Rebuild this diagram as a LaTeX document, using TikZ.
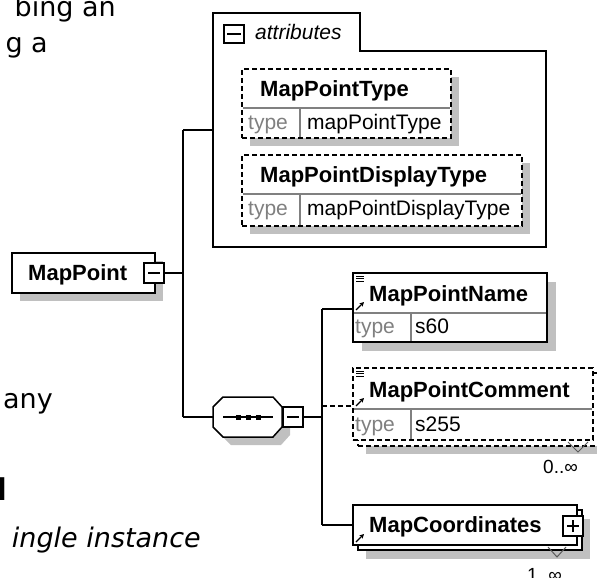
\documentclass[tikz,border=0pt]{standalone}
\usepackage{fontspec}
\setmainfont{Liberation Sans}
\newfontfamily\pagefont{DejaVu Sans}
\usetikzlibrary{arrows.meta}
\definecolor{shd}{RGB}{192,192,192}
\definecolor{divgray}{RGB}{128,128,128}
\definecolor{typegray}{RGB}{128,128,128}
\definecolor{vgray}{RGB}{90,90,90}
\begin{document}
\begin{tikzpicture}[x=1pt,y=-1pt,
  bx/.style={draw=black, line width=1.5pt, fill=white, rectangle, inner sep=0pt, outer sep=0pt, anchor=north west},
  dbx/.style={bx, dash pattern=on 5pt off 3pt},
  shadowbox/.style={fill=shd, draw=none, rectangle, inner sep=0pt, outer sep=0pt, anchor=north west},
  conn/.style={line width=1.5pt},
  dconn/.style={line width=1.5pt, dash pattern=on 5pt off 3pt},
  ename/.style={font=\fontsize{22}{22}\selectfont\bfseries, anchor=base west, inner sep=0pt},
  tlabel/.style={font=\fontsize{21}{21}\selectfont, text=typegray, anchor=base west, inner sep=0pt},
  tval/.style={font=\fontsize{21}{21}\selectfont, anchor=base west, inner sep=0pt},
  occ/.style={font=\fontsize{19}{19}\selectfont, anchor=base west, inner sep=0pt},
  divl/.style={draw=divgray, line width=1.2pt},
  expbox/.style={draw=black, line width=1.3pt, fill=white, rectangle, minimum width=20pt, minimum height=20pt, inner sep=0pt, outer sep=0pt},
  ptext/.style={font=\pagefont\fontsize{27}{27}\selectfont, anchor=base east, inner sep=0pt},
  icon/.style={line width=1pt},
  refarrow/.style={line width=1.3pt, -{Stealth[length=4.5pt,width=4.5pt]}},
  vmark/.style={draw=vgray, line width=1pt}
]
\useasboundingbox (0,0) rectangle (597,578);
\fill[white] (0,0) rectangle (597,578);
\clip (0,0) rectangle (597,578);

% ---- page text fragments ----
\node[ptext] (p1) at (116,17) {bing an};
\node[ptext] (p2) at (48,53) {g a};
\node[ptext] (p3) at (53,408) {any};
\node[ptext, font=\pagefont\fontsize{30}{30}\selectfont\bfseries] (p4) at (7,500) {l};
\node[ptext, font=\pagefont\fontsize{27}{27}\selectfont\itshape] (p5) at (201,547) {ingle instance};

% ---- attributes group ----
\draw[conn, fill=white] (213,13) -- (360,13) -- (360,51) -- (546,51) -- (546,247) -- (213,247) -- cycle;
\coordinate (attrin) at (213,130);
\node[expbox, minimum width=20pt, minimum height=18pt, anchor=north west] (attrexp) at (224,25) {};
\draw[line width=1.3pt] ([xshift=-7pt]attrexp.center) -- ([xshift=7pt]attrexp.center);
\node[font=\fontsize{21}{21}\selectfont\itshape, anchor=base west, inner sep=0pt] (attrlbl) at (255,40) {attributes};

% MapPointType
\node[shadowbox, minimum width=209pt, minimum height=69pt] (mptS) at (250,77) {};
\node[dbx, minimum width=209pt, minimum height=69pt] (mpt) at (242,69) {};
\draw[divl] (243,108) -- (450,108);
\draw[divl] (300,108) -- (300,137);
\node[ename] (mptN) at (260,96) {MapPointType};
\node[tlabel] (mptT) at (248,129) {type};
\node[tval] (mptV) at (307,129) {mapPointType};

% MapPointDisplayType
\node[shadowbox, minimum width=280pt, minimum height=71pt] (mpdS) at (250,163) {};
\node[dbx, minimum width=280pt, minimum height=71pt] (mpd) at (242,155) {};
\draw[divl] (243,194) -- (521,194);
\draw[divl] (300,194) -- (300,225);
\node[ename] (mpdN) at (260,182) {MapPointDisplayType};
\node[tlabel] (mpdT) at (248,215) {type};
\node[tval] (mpdV) at (307,215) {mapPointDisplayType};

% ---- MapPoint root ----
\node[shadowbox, minimum width=143pt, minimum height=40pt] (mpS) at (20,261) {};
\node[bx, minimum width=143pt, minimum height=40pt] (mp) at (12,253) {};
\node[ename] (mpN) at (28,280) {MapPoint};
\node[expbox] (mpexp) at (154,273) {};
\draw[line width=1.3pt] ([xshift=-6pt]mpexp.center) -- ([xshift=6pt]mpexp.center);

% left connectors
\coordinate (v1top) at (183,130);
\coordinate (v1mid) at (183,273);
\coordinate (v1bot) at (183,417);
\draw[conn] (mpexp.east) -- (v1mid);
\draw[conn] (v1top) -- (v1bot);
\draw[conn] (v1top) -- (attrin);

% ---- sequence compositor ----
\fill[shd] (221,415) -- (231,405) -- (281,405) -- (290,415) -- (290,435) -- (281,445) -- (231,445) -- (221,435) -- cycle;
\draw[conn, fill=white] (213,407) -- (223,397) -- (273,397) -- (282,407) -- (282,427) -- (273,437) -- (223,437) -- (213,427) -- cycle;
\coordinate (seqW) at (213,417);
\draw[line width=1.5pt] (223,417) -- (273,417);
\fill (236,414.5) rectangle (241,419.5);
\fill (246,414.5) rectangle (251,419.5);
\fill (256,414.5) rectangle (261,419.5);
\node[expbox] (seqexp) at (293,417) {};
\draw[line width=1.3pt] ([xshift=-6pt]seqexp.center) -- ([xshift=6pt]seqexp.center);
\draw[conn] (v1bot) -- (seqW);

% ---- MapPointName ----
\node[shadowbox, minimum width=194pt, minimum height=69pt] (mpnS) at (362,282) {};
\node[bx, minimum width=194pt, minimum height=69pt] (mpn) at (353,273) {};
\draw[divl] (354,313) -- (546,313);
\draw[divl] (411,313) -- (411,341);
\node[ename] (mpnN) at (369,301) {MapPointName};
\node[tlabel] (mpnT) at (355,333) {type};
\node[tval] (mpnV) at (415,333) {s60};
\draw[icon] (356,276) -- (364,276) (356,278.5) -- (364,278.5) (356,281) -- (364,281);
\draw[refarrow] (356,310) -- (364,302);

% ---- MapPointComment ----
\node[shadowbox, minimum width=240pt, minimum height=73pt] (mpcS) at (366,381) {};
\node[dbx, minimum width=240pt, minimum height=73pt] (mpcB) at (358,373) {};
\node[dbx, minimum width=240pt, minimum height=72pt] (mpc) at (353,368) {};
\draw[divl] (354,409) -- (592,409);
\draw[divl] (411,409) -- (411,439);
\node[ename] (mpcN) at (369,397) {MapPointComment};
\node[tlabel] (mpcT) at (355,431) {type};
\node[tval] (mpcV) at (415,431) {s255};
\draw[icon] (356,371) -- (364,371) (356,373.5) -- (364,373.5) (356,376) -- (364,376);
\draw[refarrow] (356,406) -- (364,398);
\draw[vmark] (568,442) -- (578,452) -- (588,442);
\node[occ] (mpcO) at (543,473) {0..∞};

% ---- MapCoordinates ----
\node[shadowbox, minimum width=224pt, minimum height=40pt] (mcoS) at (366,519) {};
\node[bx, minimum width=224pt, minimum height=40pt] (mcoB) at (358,510) {};
\node[bx, minimum width=224pt, minimum height=40pt] (mco) at (353,505) {};
\node[ename] (mcoN) at (369,532) {MapCoordinates};
\node[expbox] (mcoexp) at (573,526) {};
\draw[line width=1.3pt] ([xshift=-6pt]mcoexp.center) -- ([xshift=6pt]mcoexp.center);
\draw[line width=1.3pt] ([yshift=-6pt]mcoexp.center) -- ([yshift=6pt]mcoexp.center);
\draw[refarrow] (356,542) -- (364,534);
\draw[vmark] (548,547) -- (557,557) -- (566,547);
\node[occ] (mcoO) at (527,581) {1..∞};

% right connectors
\coordinate (v2top) at (322,309);
\coordinate (v2mid) at (322,406);
\coordinate (v2seq) at (322,417);
\coordinate (v2bot) at (322,525);
\draw[conn] (seqexp.east) -- (v2seq);
\draw[conn] (v2top) -- (v2bot);
\draw[conn] (v2top) -- (mpn.west |- v2top);
\draw[dconn] (v2mid) -- (mpc.west |- v2mid);
\draw[conn] (v2bot) -- (mco.west |- v2bot);
\end{tikzpicture}
\end{document}
